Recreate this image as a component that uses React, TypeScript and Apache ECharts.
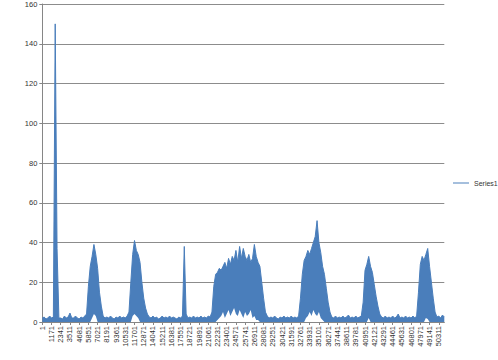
import React, { useEffect, useRef } from "react";
import * as echarts from "echarts";

// Excel-style category labels (every 1170th point)
const tickLabels = [
  "1", "1171", "2341", "3511", "4681", "5851", "7021", "8191", "9361", "10531",
  "11701", "12871", "14041", "15211", "16381", "17551", "18721", "19891", "21061", "22231",
  "23401", "24571", "25741", "26911", "28081", "29251", "30421", "31591", "32761", "33931",
  "35101", "36271", "37441", "38611", "39781", "40951", "42121", "43291", "44461", "45631",
  "46801", "47971", "49141", "50311",
];

// Upper envelope of Series1, one value per block of 234 points
const highs = [
  2, 2.5, 1.5, 2, 3, 2, 2.5, 150, 37, 2,
  2, 1.5, 3, 2, 2.5, 4.5, 2, 2, 3, 2,
  1.5, 2.5, 2, 3,
  4, 18, 28, 33, 39, 34, 27, 15, 8, 3,
  2, 2.5, 2, 3, 2, 1.5, 2.5, 2, 3, 2, 2.5, 2, 3,
  5, 20, 34, 41, 36, 34, 30, 20, 12, 7, 4,
  2.5, 2, 3, 2, 2.5, 1.5, 2, 3, 2, 2.5,
  2, 3, 2, 2.5, 2, 1.5, 2.5, 2, 3, 38,
  4, 2, 2.5, 2, 3, 2, 2.5, 2, 3, 2, 2.5, 2, 3, 2.5,
  5, 18, 24, 25, 27, 26, 28, 30, 27, 32, 29, 33, 31, 36, 30,
  38, 32, 37, 33, 31, 34, 30, 32, 39, 33, 30, 28, 20, 12, 5,
  3, 2, 2.5, 2, 3, 2, 1.5, 2.5, 2, 3, 2, 2.5, 2, 3, 2, 2.5, 2,
  3, 12, 24, 31, 33, 36, 34, 37, 40, 43, 51, 40, 35, 28, 24, 17, 10, 5, 2.5,
  2, 3, 2, 2.5, 2, 3, 2, 2.5, 3.5, 2, 2.5, 2, 3, 2, 2.5, 3,
  10, 26, 29, 33, 28, 25, 19, 13, 8, 4,
  2.5, 2, 3, 2, 2.5, 2, 3, 2, 2.5, 4, 2, 2.5, 2, 3, 2, 2.5, 2, 3, 2,
  3, 15, 29, 33, 31, 34, 37, 28, 20, 12, 5, 2.5,
  3, 2, 3.5, 2.5,
];

// Lower envelope of Series1 for the same blocks
const lows = [
  0, 0, 0, 0, 0, 0, 0, 0, 0, 0,
  0, 0, 0, 0, 0, 0, 0, 0, 0, 0,
  0, 0, 0, 0,
  0, 0, 0, 2, 4, 3, 0, 0, 0, 0,
  0, 0, 0, 0, 0, 0, 0, 0, 0, 0, 0, 0, 0,
  0, 0, 3, 4, 3, 2, 0, 0, 0, 0, 0,
  0, 0, 0, 0, 0, 0, 0, 0, 0, 0,
  0, 0, 0, 0, 0, 0, 0, 0, 0, 0,
  0, 0, 0, 0, 0, 0, 0, 0, 0, 0, 0, 0, 0, 0,
  0, 0, 0, 1, 2, 3, 5, 2, 4, 6, 3, 5, 7, 4, 3,
  6, 4, 2, 5, 3, 4, 6, 2, 3, 1, 1, 0, 0, 0, 0,
  0, 0, 0, 0, 0, 0, 0, 0, 0, 0, 0, 0, 0, 0, 0, 0, 0,
  0, 0, 0, 0, 2, 3, 5, 3, 6, 4, 3, 5, 2, 1, 0, 0, 0, 0, 0,
  0, 0, 0, 0, 0, 0, 0, 0, 0, 0, 0, 0, 0, 0, 0, 0,
  0, 0, 0, 2, 0, 0, 0, 0, 0, 0,
  0, 0, 0, 0, 0, 0, 0, 0, 0, 0, 0, 0, 0, 0, 0, 0, 0, 0, 0,
  0, 0, 0, 0, 0, 2, 1.5, 0, 0, 0, 0, 0,
  0, 0, 0, 0,
];

const yTicks = { min: 0, max: 160, interval: 20 };
const BLUE = "#4A7EBB";

export default function App() {
  const ref = useRef<HTMLDivElement>(null);

  useEffect(() => {
    if (!ref.current) return;
    const chart = echarts.init(ref.current, null, { renderer: "svg" });

    const categories = highs.map((_h, b) => String(b));
    const spans = highs.map((h, b) => h - lows[b]);

    const showIdx = (i: number) => i % 5 === 0;
    const font = "'Liberation Sans', Arial, sans-serif";

    chart.setOption({
      animation: false,
      backgroundColor: "#ffffff",
      grid: { left: 42.3, width: 402, top: 3, bottom: 38, containLabel: false },
      legend: {
        data: [{ name: "Series1", icon: "rect", itemStyle: { color: BLUE } }],
        left: 448,
        top: 174.5,
        itemWidth: 16,
        itemHeight: 1,
        textStyle: { fontSize: 7, color: "#333", fontFamily: font },
      },
      xAxis: {
        type: "category",
        data: categories,
        boundaryGap: false,
        axisLine: { lineStyle: { color: "#868686", width: 1 } },
        axisTick: { show: true, interval: showIdx, length: 3, lineStyle: { color: "#868686" } },
        axisLabel: {
          interval: showIdx,
          rotate: 90,
          margin: 4,
          fontSize: 7.5,
          color: "#333",
          fontFamily: font,
          formatter: (_v: string, i: number) => tickLabels[i / 5] ?? "",
        },
        splitLine: { show: false },
      },
      yAxis: {
        type: "value",
        min: yTicks.min,
        max: yTicks.max,
        interval: yTicks.interval,
        axisLine: { show: true, lineStyle: { color: "#868686", width: 1 } },
        axisTick: { show: true, length: 3, lineStyle: { color: "#868686" } },
        axisLabel: { fontSize: 7.5, color: "#333", margin: 5, fontFamily: font },
        splitLine: { lineStyle: { color: "#8c8c8c", width: 1 } },
      },
      series: [
        {
          name: "base",
          type: "line",
          stack: "s",
          data: lows,
          symbol: "none",
          showSymbol: false,
          silent: true,
          lineStyle: { width: 0, opacity: 0 },
        },
        {
          name: "Series1",
          type: "line",
          stack: "s",
          data: spans,
          symbol: "none",
          showSymbol: false,
          lineStyle: { color: BLUE, width: 1 },
          itemStyle: { color: BLUE },
          areaStyle: { color: BLUE, opacity: 1 },
        },
      ],
    });

    return () => chart.dispose();
  }, []);

  return (
    <div
      ref={ref}
      style={{ position: "fixed", left: 0, top: 0, width: 498, height: 360, background: "#fff" }}
    />
  );
}
